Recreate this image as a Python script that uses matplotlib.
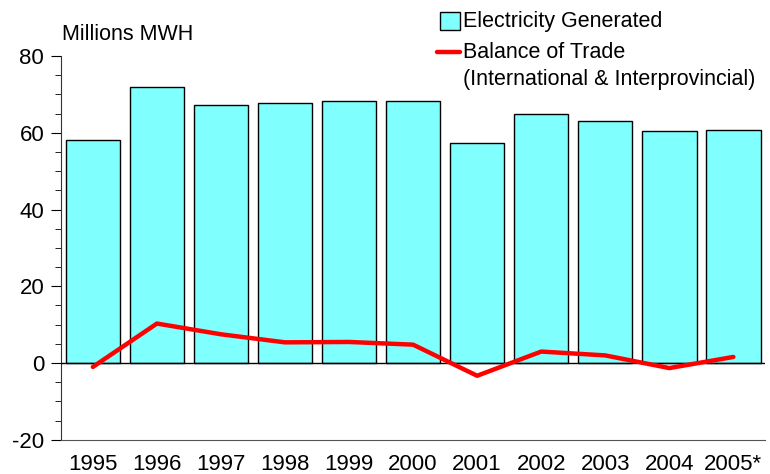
import matplotlib.pyplot as plt
import numpy as np
from matplotlib.ticker import MultipleLocator
from matplotlib.patches import Rectangle
from matplotlib.lines import Line2D

plt.rcParams['font.family'] = ['Liberation Sans', 'DejaVu Sans']
plt.rcParams['axes.unicode_minus'] = False

years = ['1995', '1996', '1997', '1998', '1999', '2000',
         '2001', '2002', '2003', '2004', '2005*']
generated = [58.0, 71.9, 67.1, 67.8, 68.2, 68.3, 57.4, 65.0, 63.0, 60.4, 60.8]
trade = [-1.0, 10.3, 7.5, 5.4, 5.5, 4.8, -3.3, 3.0, 2.0, -1.3, 1.6]

W, H = 770, 474
fig = plt.figure(figsize=(7.7, 4.74), dpi=100)
ax = fig.add_axes([0.079, 0.072, 0.915, 0.810])

x = np.arange(len(years))
ax.bar(x, generated, width=0.85, color='#80FFFF', edgecolor='black',
       linewidth=1, zorder=2)
ax.axhline(0, color='black', linewidth=1, zorder=3)
ax.plot(x, trade, color='#FF0000', linewidth=3.2, solid_capstyle='round',
        zorder=4)

ax.set_xlim(-0.5, 10.5)
ax.set_ylim(-20, 80)
ax.yaxis.set_major_locator(MultipleLocator(20))
ax.yaxis.set_minor_locator(MultipleLocator(5))
ax.set_xticks(x)
ax.set_xticklabels(years)
ax.tick_params(axis='x', length=0, labelsize=16, pad=10)
ax.tick_params(axis='y', which='major', length=7, labelsize=16, pad=5)
ax.tick_params(axis='y', which='minor', length=4)

for s in ['top', 'right']:
    ax.spines[s].set_visible(False)
ax.spines['bottom'].set_color('#555555')
ax.spines['left'].set_color('#333333')

fig.text(0.081, 0.905, 'Millions MWH', fontsize=15.5, ha='left', va='bottom')

# hand-built legend (line key sits on the first text line, like the original)
fig.patches.append(Rectangle((440 / W, 1 - 30 / H), 20 / W, 18 / H,
                             transform=fig.transFigure, facecolor='#80FFFF',
                             edgecolor='black', linewidth=1))
fig.text(463 / W, 1 - 21 / H, 'Electricity Generated', fontsize=15.5,
         ha='left', va='center')
fig.lines.append(Line2D([437 / W, 460 / W], [1 - 52 / H, 1 - 52 / H],
                        transform=fig.transFigure, color='#FF0000',
                        linewidth=3.2, solid_capstyle='round'))
fig.text(463 / W, 1 - 52 / H, 'Balance of Trade', fontsize=15.5,
         ha='left', va='center')
fig.text(463 / W, 1 - 80 / H, '(International & Interprovincial)',
         fontsize=15.5, ha='left', va='center')

fig.savefig('out.png', dpi=100)
